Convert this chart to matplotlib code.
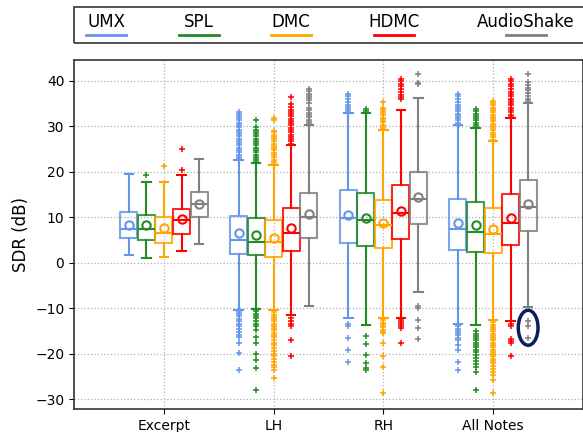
import matplotlib
matplotlib.use('Agg')
import matplotlib.pyplot as plt
from matplotlib.lines import Line2D
from matplotlib.patches import Rectangle, Ellipse

groups = ['Excerpt', 'LH', 'RH', 'All Notes']
models = ['UMX', 'SPL', 'DMC', 'HDMC', 'AudioShake']
colors = ['#6495ED', '#228B22', '#FFA500', '#FF0000', '#808080']

# per model: one entry per group -> (q1, med, q3, whislo, whishi, mean)
umx_stats = [(5.4, 7.35, 11.2, 1.7, 19.6, 8.4), (2.0, 5.1, 10.2, -10.3, 22.5, 6.5),
             (4.4, 9.8, 16.1, -12.1, 33.0, 10.6), (2.9, 7.5, 14.0, -13.5, 30.2, 8.75)]
spl_stats = [(5.1, 7.5, 10.6, 1.0, 17.8, 8.2), (1.6, 4.5, 9.8, -10.1, 22.0, 6.1),
             (3.75, 9.3, 15.4, -13.7, 33.0, 9.85), (2.35, 6.8, 13.3, -13.8, 29.6, 8.2)]
dmc_stats = [(4.3, 6.5, 10.1, 1.25, 17.8, 7.6), (1.25, 4.5, 9.3, -10.4, 21.4, 5.5),
             (3.2, 8.2, 13.75, -12.2, 29.1, 8.75), (2.06, 6.4, 12.0, -12.6, 26.8, 7.35)]
hdmc_stats = [(6.3, 9.3, 11.8, 2.5, 19.3, 9.6), (2.5, 6.6, 12.0, -11.5, 25.9, 7.6),
              (5.3, 10.96, 17.1, -12.2, 33.5, 11.4), (3.8, 8.75, 15.1, -12.9, 31.8, 9.8)]
as_stats = [(10.0, 12.9, 15.6, 4.1, 22.9, 12.9), (5.4, 10.0, 15.4, -9.6, 30.2, 10.8),
            (8.6, 14.1, 19.9, -6.5, 36.3, 14.5), (7.0, 12.35, 18.2, -9.8, 35.2, 12.9)]

# outliers (dense runs approximated)
umx_fliers = [
    [],
    [22.8, 23.3, 23.8, 24.3, 24.8, 25.3, 25.8, 26.3, 26.8, 27.3, 27.8, 28.3, 28.8, 29.3,
     29.8, 30.3, 30.8, 31.3, 31.8, 32.3, 32.8, 33.2,
     -10.3, -10.8, -11.3, -11.8, -12.3, -12.8, -13.4, -14.0, -14.6, -15.2, -15.8, -16.3,
     -17.7, -19.8, -23.7],
    [33.4, 33.8, 34.3, 34.8, 35.4, 36.0, 36.6, 37.2,
     -13.5, -14.0, -16.5, -19.2, -21.9],
    [30.4, 30.8, 31.3, 31.8, 32.3, 32.8, 33.3, 33.8, 34.3, 34.8, 35.4, 36.0, 36.6, 37.2,
     -13.5, -14.0, -14.5, -15.0, -15.5, -16.0, -16.5, -17.0, -18.2, -19.2, -21.9, -23.6],
]
spl_fliers = [
    [19.3],
    [22.3, 22.8, 23.3, 23.8, 24.3, 24.8, 25.3, 25.8, 26.3, 26.8, 27.3, 27.8, 28.3, 28.8,
     29.3, 29.8, 31.4,
     -10.7, -11.2, -11.7, -12.2, -12.8, -13.4, -14.0, -14.8, -16.3, -17.7, -20.1, -21.5,
     -23.2, -28.0],
    [33.3, 33.9,
     -16.1, -17.9, -20.3, -22.1, -23.2, -23.6],
    [29.9, 30.3, 30.8, 31.3, 31.8, 32.3, 32.8, 33.3, 33.9,
     -15.1, -15.6, -16.1, -16.6, -17.1, -17.6, -18.1, -18.6, -19.1, -19.6, -20.3, -21.0,
     -21.6, -22.3, -23.0, -24.0, -28.0],
]
dmc_fliers = [
    [21.3],
    [21.7, 22.2, 22.7, 23.2, 23.7, 24.2, 24.7, 25.2, 25.7, 26.2, 26.7, 27.2, 27.7, 28.2,
     28.7, 29.0, 31.4, 31.9,
     -10.4, -10.9, -11.4, -11.9, -12.4, -12.9, -13.4, -13.9, -14.4, -14.9, -15.4, -15.9,
     -16.4, -17.0, -17.6, -18.2, -18.8, -19.4, -20.0, -20.6, -21.2, -21.8, -22.4, -23.0,
     -23.6, -25.4],
    [29.4, 29.9, 30.4, 30.9, 31.4, 31.9, 32.4, 32.9, 33.4, 33.8, 34.1, 35.4,
     -12.2, -12.7, -13.2, -13.7, -14.2, -14.7, -15.2, -15.5, -17.7, -20.5, -22.9, -28.6],
    [27.1, 27.6, 28.1, 28.6, 29.1, 29.6, 30.1, 30.6, 31.1, 31.6, 32.1, 32.6, 33.1, 33.6,
     34.1, 34.6, 35.1, 35.6,
     -12.6, -13.1, -13.6, -14.1, -14.6, -15.1, -15.6, -16.1, -16.6, -17.1, -17.6, -18.1,
     -18.6, -19.1, -19.6, -20.1, -20.6, -21.1, -21.6, -22.1, -22.7, -23.3, -24.0, -24.8,
     -25.8, -28.6],
]
hdmc_fliers = [
    [20.4, 25.1],
    [26.2, 26.7, 27.2, 27.7, 28.2, 28.7, 29.2, 29.7, 30.2, 30.7, 31.2, 31.7, 32.2, 32.7,
     33.2, 33.7, 34.2, 34.9, 36.5,
     -12.2, -12.8, -13.4, -14.0, -17.0, -20.5],
    [36.0, 36.5, 37.0, 37.6, 38.2, 38.8, 39.4, 40.0, 40.4,
     -12.6, -13.0, -13.5, -14.0, -14.4, -17.7],
    [32.1, 32.6, 33.1, 33.6, 34.1, 34.6, 35.1, 35.6, 36.1, 36.6, 37.1, 37.6, 38.2, 38.8,
     39.4, 40.0, 40.4,
     -12.9, -13.4, -14.0, -16.8, -17.3, -17.7, -20.5],
]
as_fliers = [
    [],
    [30.5, 31.0, 31.5, 32.0, 32.5, 33.0, 33.5, 34.1, 35.2, 35.7, 36.2, 36.7, 37.2, 37.7,
     38.2],
    [39.3, 39.6, 41.5,
     -9.5, -10.0, -12.6, -14.3, -16.8],
    [35.6, 36.1, 36.7, 37.3, 37.9, 38.5, 39.1, 39.7, 41.5,
     -12.8, -13.9, -16.6],
]

all_stats = [umx_stats, spl_stats, dmc_stats, hdmc_stats, as_stats]
all_fliers = [umx_fliers, spl_fliers, dmc_fliers, hdmc_fliers, as_fliers]
offsets = [-0.32, -0.16, 0.0, 0.16, 0.32]

fig = plt.figure(figsize=(5.83, 4.32), dpi=100)
ax = fig.add_axes([0.127, 0.053, 0.873, 0.808])

for m, (st, fl, c, off) in enumerate(zip(all_stats, all_fliers, colors, offsets)):
    bx = []
    for (q1, med, q3, lo, hi, mean), f in zip(st, fl):
        bx.append(dict(q1=q1, med=med, q3=q3, whislo=lo, whishi=hi, mean=mean, fliers=f))
    pos = [i + 1 + off for i in range(len(groups))]
    ax.bxp(bx, positions=pos, widths=0.155, showmeans=True, manage_ticks=False,
           boxprops=dict(color=c, linewidth=1.5, alpha=0.85),
           whiskerprops=dict(color=c, linewidth=1.5),
           capprops=dict(color=c, linewidth=1.5),
           medianprops=dict(color=c, linewidth=1.5),
           meanprops=dict(marker='o', markerfacecolor='none', markeredgecolor=c,
                          markersize=6, markeredgewidth=1.5),
           flierprops=dict(marker='+', markeredgecolor=c, markersize=5,
                           markeredgewidth=1.1, linestyle='none'))

ax.set_xlim(0.18, 4.82)
ax.set_ylim(-32.2, 44.6)
ax.set_xticks(range(1, len(groups) + 1))
ax.set_xticklabels(groups, fontsize=10)
ax.set_yticks(range(-30, 41, 10))
ax.tick_params(axis='y', labelsize=10)
ax.set_ylabel('SDR (dB)', fontsize=12)
ax.grid(True, linestyle=':', color='#b0b0b0', linewidth=0.9)
ax.set_axisbelow(True)
for s in ax.spines.values():
    s.set_color('#333333')
    s.set_linewidth(1.2)

# highlight circle
ax.add_patch(Ellipse((4.32, -14.3), 0.18, 7.7, fill=False, edgecolor='#0a1f5c',
                     linewidth=2.5, zorder=5))

# legend drawn above the axes, labels over their line samples
fig.patches.append(Rectangle((0.127, 0.90), 0.9, 0.084, transform=fig.transFigure,
                             fill=False, edgecolor='#333333', linewidth=1.2))
lx = [0.182, 0.341, 0.499, 0.676, 0.902]
for name, c, x in zip(models, colors, lx):
    fig.text(x, 0.949, name, ha='center', va='center', fontsize=12)
    fig.lines.append(Line2D([x - 0.034, x + 0.034], [0.919, 0.919], color=c,
                            linewidth=2, transform=fig.transFigure))

fig.savefig('out.png', dpi=100)
